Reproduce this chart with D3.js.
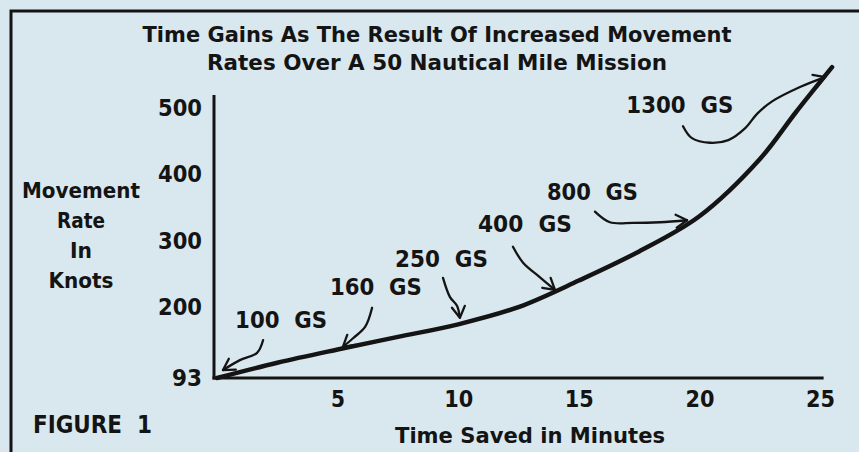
<!DOCTYPE html>
<html><head><meta charset="utf-8">
<script src="https://cdn.jsdelivr.net/npm/d3@7"></script>
<style>
html,body{margin:0;padding:0;background:#d9e8ee;}
svg{display:block;}
text{font-family:"DejaVu Sans",sans-serif;font-weight:bold;fill:#141414;}
</style></head>
<body><svg id="c" width="859" height="452"></svg>
<script>
// ---- data ----
const titleLines = ["Time Gains As The Result Of Increased Movement", "Rates Over A 50 Nautical Mile Mission"];
const yTitleLines = ["Movement", "Rate", "In", "Knots"];
const xTitle = "Time Saved in Minutes";
const figLabel = "FIGURE  1";
const yTicks = [93, 200, 300, 400, 500];
const xTicks = [5, 10, 15, 20, 25];
const timeSaved = [0, 2.5, 5, 7.5, 10, 12.5, 15, 17.5, 20, 22.5, 24, 25.5];
const moveRate  = [93, 116, 136, 155, 174, 200, 240, 284, 337, 423, 494, 562];
const gsLabels = ["100  GS", "160  GS", "250  GS", "400  GS", "800  GS", "1300  GS"];
const gsLabelTime = [0.75, 4.68, 7.38, 10.82, 13.68, 16.97];
const gsLabelRate = [168, 218, 260, 313, 362, 493];
const arrowTime = [
  [1.91, 1.66, 0.95, 0.25],
  [6.43, 6.14, 5.64, 5.22],
  [9.37, 9.66, 9.95, 10.07],
  [12.27, 12.69, 13.39, 14.01],
  [15.67, 16.29, 17.25, 18.37, 19.49],
  [19.32, 19.69, 20.44, 21.2, 21.9, 22.4, 23.0, 24.17, 25.21]
];
const arrowRate = [
  [150, 131, 120, 105],
  [199, 170, 153, 140],
  [244, 215, 202, 184],
  [291, 267, 245, 226],
  [344, 328, 327, 328, 331],
  [473, 455, 448, 452, 470, 492, 510, 532, 547]
];

// ---- layout ----
const svg = d3.select("#c");
const x = d3.scaleLinear().domain([0, 25]).range([217, 820]);
const y = d3.scaleLinear().domain([93, 517]).range([378, 97]);
const ink = "#141414";

// border
svg.append("path").attr("d", "M11,452 L11,11 L859,11")
  .attr("fill", "none").attr("stroke", ink).attr("stroke-width", 3);

// title
svg.selectAll("text.title").data(titleLines).join("text").attr("class", "title")
  .attr("x", 437).attr("y", (d, i) => 42 + i * 28)
  .attr("text-anchor", "middle").attr("font-size", 20.5)
  .attr("textLength", (d, i) => [589, 460][i]).attr("lengthAdjust", "spacingAndGlyphs")
  .text(d => d);

// y title
svg.selectAll("text.yt").data(yTitleLines).join("text").attr("class", "yt")
  .attr("x", 81).attr("y", (d, i) => 198 + i * 30)
  .attr("text-anchor", "middle").attr("font-size", 20.5)
  .attr("textLength", (d, i) => [118, 48, 22, 65][i]).attr("lengthAdjust", "spacingAndGlyphs")
  .text(d => d);

// axes
const yAxis = d3.axisLeft(y).tickValues(yTicks).tickSize(0).tickPadding(12).tickFormat(d3.format("d"));
const gy = svg.append("g").attr("transform", `translate(${x(0) - 3},0)`).call(yAxis);
gy.select(".domain").remove();
gy.selectAll("text").attr("font-size", 22.5).attr("fill", ink)
  .style("font-family", '"DejaVu Sans",sans-serif').style("font-weight", "bold")
  .attr("textLength", d => d < 100 ? 30 : 44).attr("lengthAdjust", "spacingAndGlyphs");

const xAxis = d3.axisBottom(x).tickValues(xTicks).tickSize(0).tickPadding(13);
const gx = svg.append("g").attr("transform", `translate(0,${y(93)})`).call(xAxis);
gx.select(".domain").remove();
gx.selectAll("text").attr("font-size", 22.5).attr("fill", ink)
  .style("font-family", '"DejaVu Sans",sans-serif').style("font-weight", "bold")
  .attr("textLength", d => d < 10 ? 14 : 29).attr("lengthAdjust", "spacingAndGlyphs");

svg.append("line").attr("x1", x(0) - 3).attr("x2", x(0) - 3).attr("y1", y(520)).attr("y2", y(93) + 1.5)
  .attr("stroke", ink).attr("stroke-width", 3);
svg.append("line").attr("x1", x(0) - 4.5).attr("x2", x(25.15)).attr("y1", y(93)).attr("y2", y(93))
  .attr("stroke", ink).attr("stroke-width", 3);

// x title & figure label
svg.append("text").attr("x", 530).attr("y", 443).attr("text-anchor", "middle")
  .attr("font-size", 21).attr("textLength", 270).attr("lengthAdjust", "spacingAndGlyphs").text(xTitle);
svg.append("text").attr("x", 33).attr("y", 433).attr("font-size", 24).style("white-space", "pre")
  .attr("textLength", 119).attr("lengthAdjust", "spacingAndGlyphs").text(figLabel);

// curve
const pts = timeSaved.map((t, i) => [t, moveRate[i]]);
svg.append("path").datum(pts)
  .attr("d", d3.line().x(d => x(d[0])).y(d => y(d[1])).curve(d3.curveCatmullRom.alpha(0.5)))
  .attr("fill", "none").attr("stroke", ink).attr("stroke-width", 4.5).attr("stroke-linecap", "round");

// arrow marker
const defs = svg.append("defs");
defs.append("marker").attr("id", "ah").attr("markerUnits", "userSpaceOnUse")
  .attr("viewBox", "-14 -9 16 18").attr("refX", 0).attr("refY", 0)
  .attr("markerWidth", 16).attr("markerHeight", 18).attr("orient", "auto")
  .append("path").attr("d", "M-11,-6.5 L0,0 L-11,6.5").attr("fill", "none")
  .attr("stroke", ink).attr("stroke-width", 2.3).attr("stroke-linejoin", "round").attr("stroke-linecap", "round");

// annotations
const arrowLine = d3.line().x(d => x(d[0])).y(d => y(d[1])).curve(d3.curveCatmullRom.alpha(0.5));
arrowTime.forEach((ts, k) => {
  const p = ts.map((t, i) => [t, arrowRate[k][i]]);
  svg.append("path").datum(p).attr("d", arrowLine)
    .attr("fill", "none").attr("stroke", ink).attr("stroke-width", 2.3)
    .attr("stroke-linecap", "round").attr("marker-end", "url(#ah)");
});
const gsWidths = [92, 92, 93, 94, 91, 107];
svg.selectAll("text.gs").data(gsLabels).join("text").attr("class", "gs")
  .attr("x", (d, i) => x(gsLabelTime[i])).attr("y", (d, i) => y(gsLabelRate[i]))
  .attr("font-size", 23).style("white-space", "pre")
  .attr("textLength", (d, i) => gsWidths[i]).attr("lengthAdjust", "spacingAndGlyphs")
  .text(d => d);
</script>
</body></html>
